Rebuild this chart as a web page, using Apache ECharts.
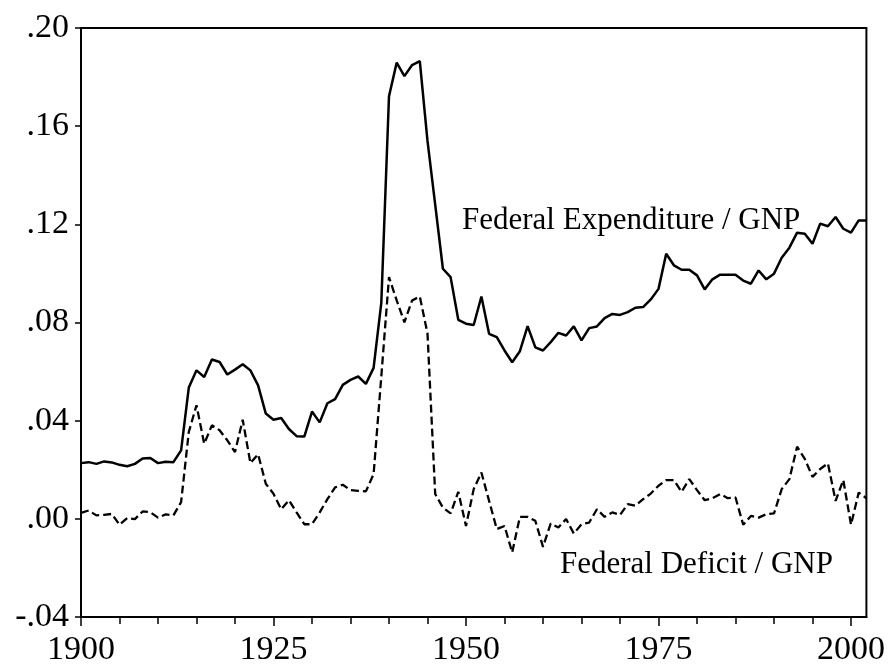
<!DOCTYPE html>
<html>
<head>
<meta charset="utf-8">
<script src="https://cdn.jsdelivr.net/npm/echarts@6/dist/echarts.min.js"></script>
<style>
  html, body { margin: 0; padding: 0; background: #fff; }
  #chart1 { width: 888px; height: 668px; }
</style>
</head>
<body>
<div id="chart1"></div>
<script>
// years 1900..2002
var firstYear = 1900;
var expenditure = [
    0.0227, 0.0231, 0.0224, 0.0234, 0.0230, 0.0220, 0.0214, 0.0224, 0.0246, 0.0248,
    0.0227, 0.0233, 0.0231, 0.0279, 0.0535, 0.0605, 0.0578, 0.0649, 0.0639, 0.0588,
    0.0608, 0.0630, 0.0605, 0.0544, 0.0429, 0.0404, 0.0411, 0.0366, 0.0337, 0.0335,
    0.0437, 0.0393, 0.0471, 0.0488, 0.0546, 0.0566, 0.0580, 0.0550, 0.0615, 0.0880,
    0.1722, 0.1859, 0.1804, 0.1849, 0.1865, 0.1540, 0.1280, 0.1019, 0.0985, 0.0811,
    0.0795, 0.0790, 0.0906, 0.0754, 0.0740, 0.0686, 0.0638, 0.0683, 0.0785, 0.0699,
    0.0686, 0.0720, 0.0758, 0.0747, 0.0784, 0.0727, 0.0777, 0.0784, 0.0818, 0.0835,
    0.0831, 0.0842, 0.0860, 0.0863, 0.0894, 0.0937, 0.1080, 0.1033, 0.1015, 0.1015,
    0.0992, 0.0935, 0.0976, 0.0995, 0.0995, 0.0995, 0.0971, 0.0958, 0.1012, 0.0976,
    0.0999, 0.1064, 0.1105, 0.1166, 0.1162, 0.1121, 0.1203, 0.1192, 0.1230, 0.1182,
    0.1166, 0.1216, 0.1216
];
var deficit = [
    0.0024, 0.0034, 0.0014, 0.0016, 0.0020, -0.0024, 0.0003, -0.0001, 0.0030, 0.0027,
    0.0005, 0.0018, 0.0014, 0.0068, 0.0354, 0.0463, 0.0306, 0.0381, 0.0361, 0.0320,
    0.0272, 0.0404, 0.0227, 0.0263, 0.0143, 0.0102, 0.0039, 0.0076, 0.0026, -0.0022,
    -0.0022, 0.0026, 0.0080, 0.0128, 0.0139, 0.0117, 0.0114, 0.0112, 0.0182, 0.0580,
    0.0985, 0.0890, 0.0801, 0.0890, 0.0906, 0.0755, 0.0101, 0.0046, 0.0022, 0.0110,
    -0.0029, 0.0121, 0.0189, 0.0073, -0.0042, -0.0029, -0.0137, 0.0008, 0.0008, -0.0008,
    -0.0114, -0.0019, -0.0035, -0.0001, -0.0060, -0.0022, -0.0015, 0.0039, 0.0008, 0.0026,
    0.0016, 0.0060, 0.0053, 0.0080, 0.0103, 0.0135, 0.0158, 0.0158, 0.0110, 0.0162,
    0.0117, 0.0076, 0.0084, 0.0101, 0.0084, 0.0087, -0.0024, 0.0012, 0.0005, 0.0019,
    0.0022, 0.0121, 0.0162, 0.0294, 0.0244, 0.0171, 0.0203, 0.0226, 0.0073, 0.0158,
    -0.0024, 0.0107, 0.0084
];
var yearTicks = [1900, 1925, 1950, 1975, 2000];
var minorYearTicks = [1905, 1910, 1915, 1920, 1930, 1935, 1940, 1945, 1955, 1960,
    1965, 1970, 1980, 1985, 1990, 1995];
var lastYear = 2002;

var myChart = echarts.init(document.getElementById('chart1'));
var font = 'Liberation Serif';

function pairs(arr) {
    var out = [];
    for (var i = 0; i < arr.length; i++) {
        out.push([firstYear + i, arr[i]]);
    }
    return out;
}

myChart.setOption({
    animation: false,
    backgroundColor: '#fff',
    grid: {
        left: 81, right: 17, top: 28, bottom: 51,
        show: true, borderColor: '#000', borderWidth: 2
    },
    xAxis: [{
        type: 'value',
        min: firstYear, max: lastYear, interval: 25,
        axisLine: { onZero: false, lineStyle: { color: '#000', width: 2 } },
        axisTick: { customValues: yearTicks, length: 9, lineStyle: { color: '#000', width: 1.5 } },
        axisLabel: {
            customValues: yearTicks, margin: 16,
            color: '#000', fontFamily: font, fontSize: 34,
            formatter: function (v) { return String(v); }
        },
        splitLine: { show: false }
    }, {
        type: 'value',
        position: 'bottom',
        min: firstYear, max: lastYear, interval: 25,
        axisLine: { show: false, onZero: false },
        axisTick: { customValues: minorYearTicks, length: 7, lineStyle: { color: '#000', width: 1.5 } },
        axisLabel: { show: false },
        splitLine: { show: false }
    }],
    yAxis: {
        type: 'value',
        min: -0.04, max: 0.2, interval: 0.04,
        axisLine: { show: true, lineStyle: { color: '#000', width: 2 } },
        axisTick: { show: true, length: 6, lineStyle: { color: '#000', width: 1.5 } },
        axisLabel: {
            margin: 12, color: '#000', fontFamily: font, fontSize: 34,
            formatter: function (v) {
                return v.toFixed(2).replace('0.', '.');
            }
        },
        splitLine: { show: false }
    },
    graphic: [{
        type: 'text', left: 462, top: 205,
        style: { text: 'Federal Expenditure / GNP', font: '31px "Liberation Serif"', fill: '#000' }
    }, {
        type: 'text', left: 560, top: 549,
        style: { text: 'Federal Deficit / GNP', font: '31px "Liberation Serif"', fill: '#000' }
    }],
    series: [{
        name: 'Federal Expenditure / GNP',
        type: 'line',
        showSymbol: false,
        data: pairs(expenditure),
        lineStyle: { color: '#000', width: 2.5 }
    }, {
        name: 'Federal Deficit / GNP',
        type: 'line',
        showSymbol: false,
        data: pairs(deficit),
        lineStyle: { color: '#000', width: 2.3, type: [8, 4] }
    }]
});
</script>
</body>
</html>
